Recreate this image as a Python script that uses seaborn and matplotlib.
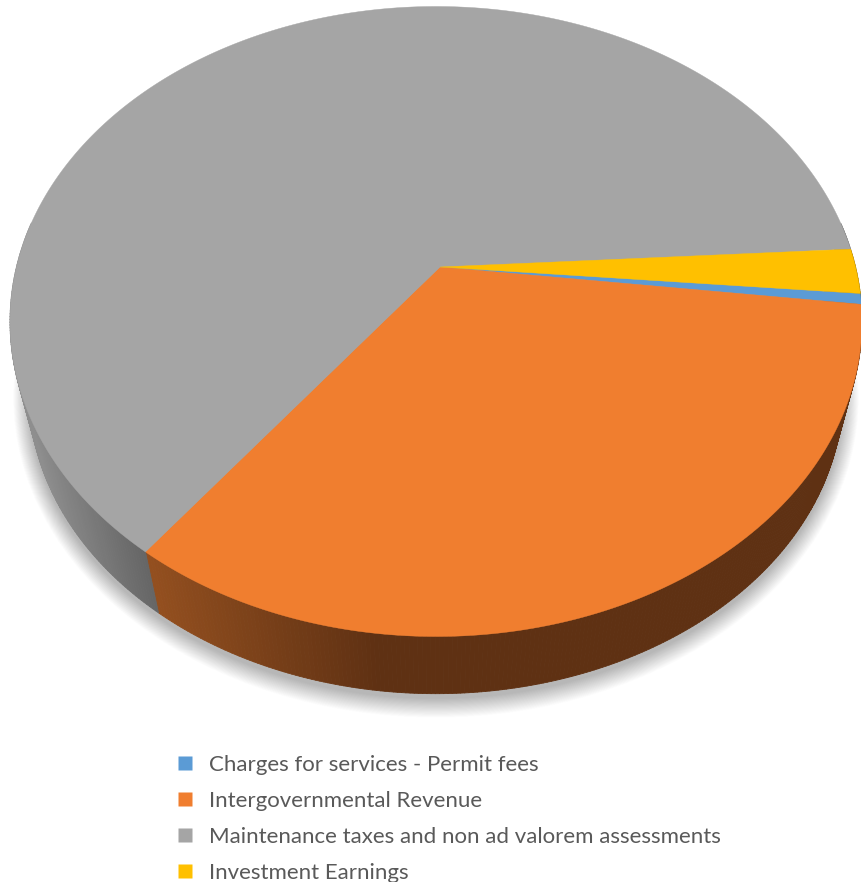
import numpy as np
import matplotlib
matplotlib.use("Agg")
import matplotlib.pyplot as plt
from matplotlib.collections import PolyCollection
from matplotlib.lines import Line2D
from matplotlib.patches import Ellipse
import seaborn as sns

categories = ["Charges for services - Permit fees", "Intergovernmental Revenue",
              "Maintenance taxes and non ad valorem assessments", "Investment Earnings"]
values = [0.55, 33.39, 63.76, 2.30]
colors = ["#5B9BD5", "#F07E2F", "#A5A5A5", "#FFC000"]

sns.set_theme(style="white")
plt.rcParams["font.family"] = ["Lato", "DejaVu Sans"]
palette = sns.color_palette(colors)

fig = plt.figure(figsize=(8.61, 8.82), dpi=100)
ax = fig.add_axes([0, 0, 1, 1])
ax.set_xlim(0, 861)
ax.set_ylim(882, 0)
ax.axis("off")

# perspective projection of the disc
CX, CY, RX, RY = 436.0, 321.5, 426.0, 315.0
APEX = (440.0, 267.0)
C = 0.168
A = RX * np.sqrt(1 - C ** 2)
START = -4.6  # degrees, slices run clockwise
SCALE, VY = 0.955, 1907.0


def rim(deg):
    t = np.radians(deg)
    u, v = np.cos(t), np.sin(t)
    w = 1 + C * v
    return CX + A * u / w, CY - RY * (v + C) / w


def lower(x, y):
    return CX + SCALE * (x - CX), VY + SCALE * (y - VY)


def mix(a, b, f):
    f = np.clip(f, 0, 1)
    return tuple(np.array(matplotlib.colors.to_rgb(a)) * (1 - f) + np.array(matplotlib.colors.to_rgb(b)) * f)


def wall_colour(i, x):
    if i == 2:
        return mix("#8e8e8e", "#626262", (x - 30) / 125)
    if i == 1:
        return mix("#934f1f", "#5f3113", (x - 150) / 225)
    if i == 0:
        return "#2f5d85"
    return "#7f6000"


# soft shadow
lx, ly = CX, VY + SCALE * (CY - VY)
lrx, lry = RX * SCALE, RY * SCALE
layers = 36
for k in range(layers):
    f = 1 - k / (layers - 1)
    ex = 16 * f
    ey = 19 * f
    ax.add_patch(Ellipse((lx, ly + 5), 2 * (lrx + ex), 2 * (lry + ey), fc="black", ec="none",
                         alpha=0.0085, zorder=1))

fracs = np.array(values) / np.sum(values)
edges = START - 360 * np.concatenate([[0], np.cumsum(fracs)])

# side wall (front part of the rim only)
polys, cols = [], []
for i in range(len(values)):
    ts = np.arange(edges[i], edges[i + 1] - 0.25, -0.5)
    ts = np.append(ts, edges[i + 1])
    for a, b in zip(ts[:-1], ts[1:]):
        if np.sin(np.radians((a + b) / 2)) > 0.15:
            continue
        xa, ya = rim(a)
        xb, yb = rim(b)
        polys.append([(xa, ya), (xb, yb), lower(xb, yb), lower(xa, ya)])
        cols.append(wall_colour(i, (xa + xb) / 2))
ax.add_collection(PolyCollection(polys, facecolors=cols, edgecolors=cols, linewidths=0.6, zorder=2))

# top face
for i in range(len(values)):
    ts = np.linspace(edges[i], edges[i + 1], max(3, int(abs(edges[i + 1] - edges[i]) * 3)))
    xs, ys = rim(ts)
    ax.fill(np.r_[APEX[0], xs], np.r_[APEX[1], ys], color=palette[i], lw=0.3, zorder=3)

handles = [Line2D([], [], linestyle="none", marker="s", markersize=10, markerfacecolor=palette[i],
                  markeredgecolor="none") for i in range(len(values))]
ax.legend(handles, categories, loc="upper left", bbox_to_anchor=(172 / 861, 1 - 755 / 882),
          frameon=False, fontsize=16, labelcolor="#595959", handlelength=1.2, handletextpad=0.485,
          labelspacing=0.72, borderpad=0, borderaxespad=0)

fig.savefig("out.png", dpi=100)
